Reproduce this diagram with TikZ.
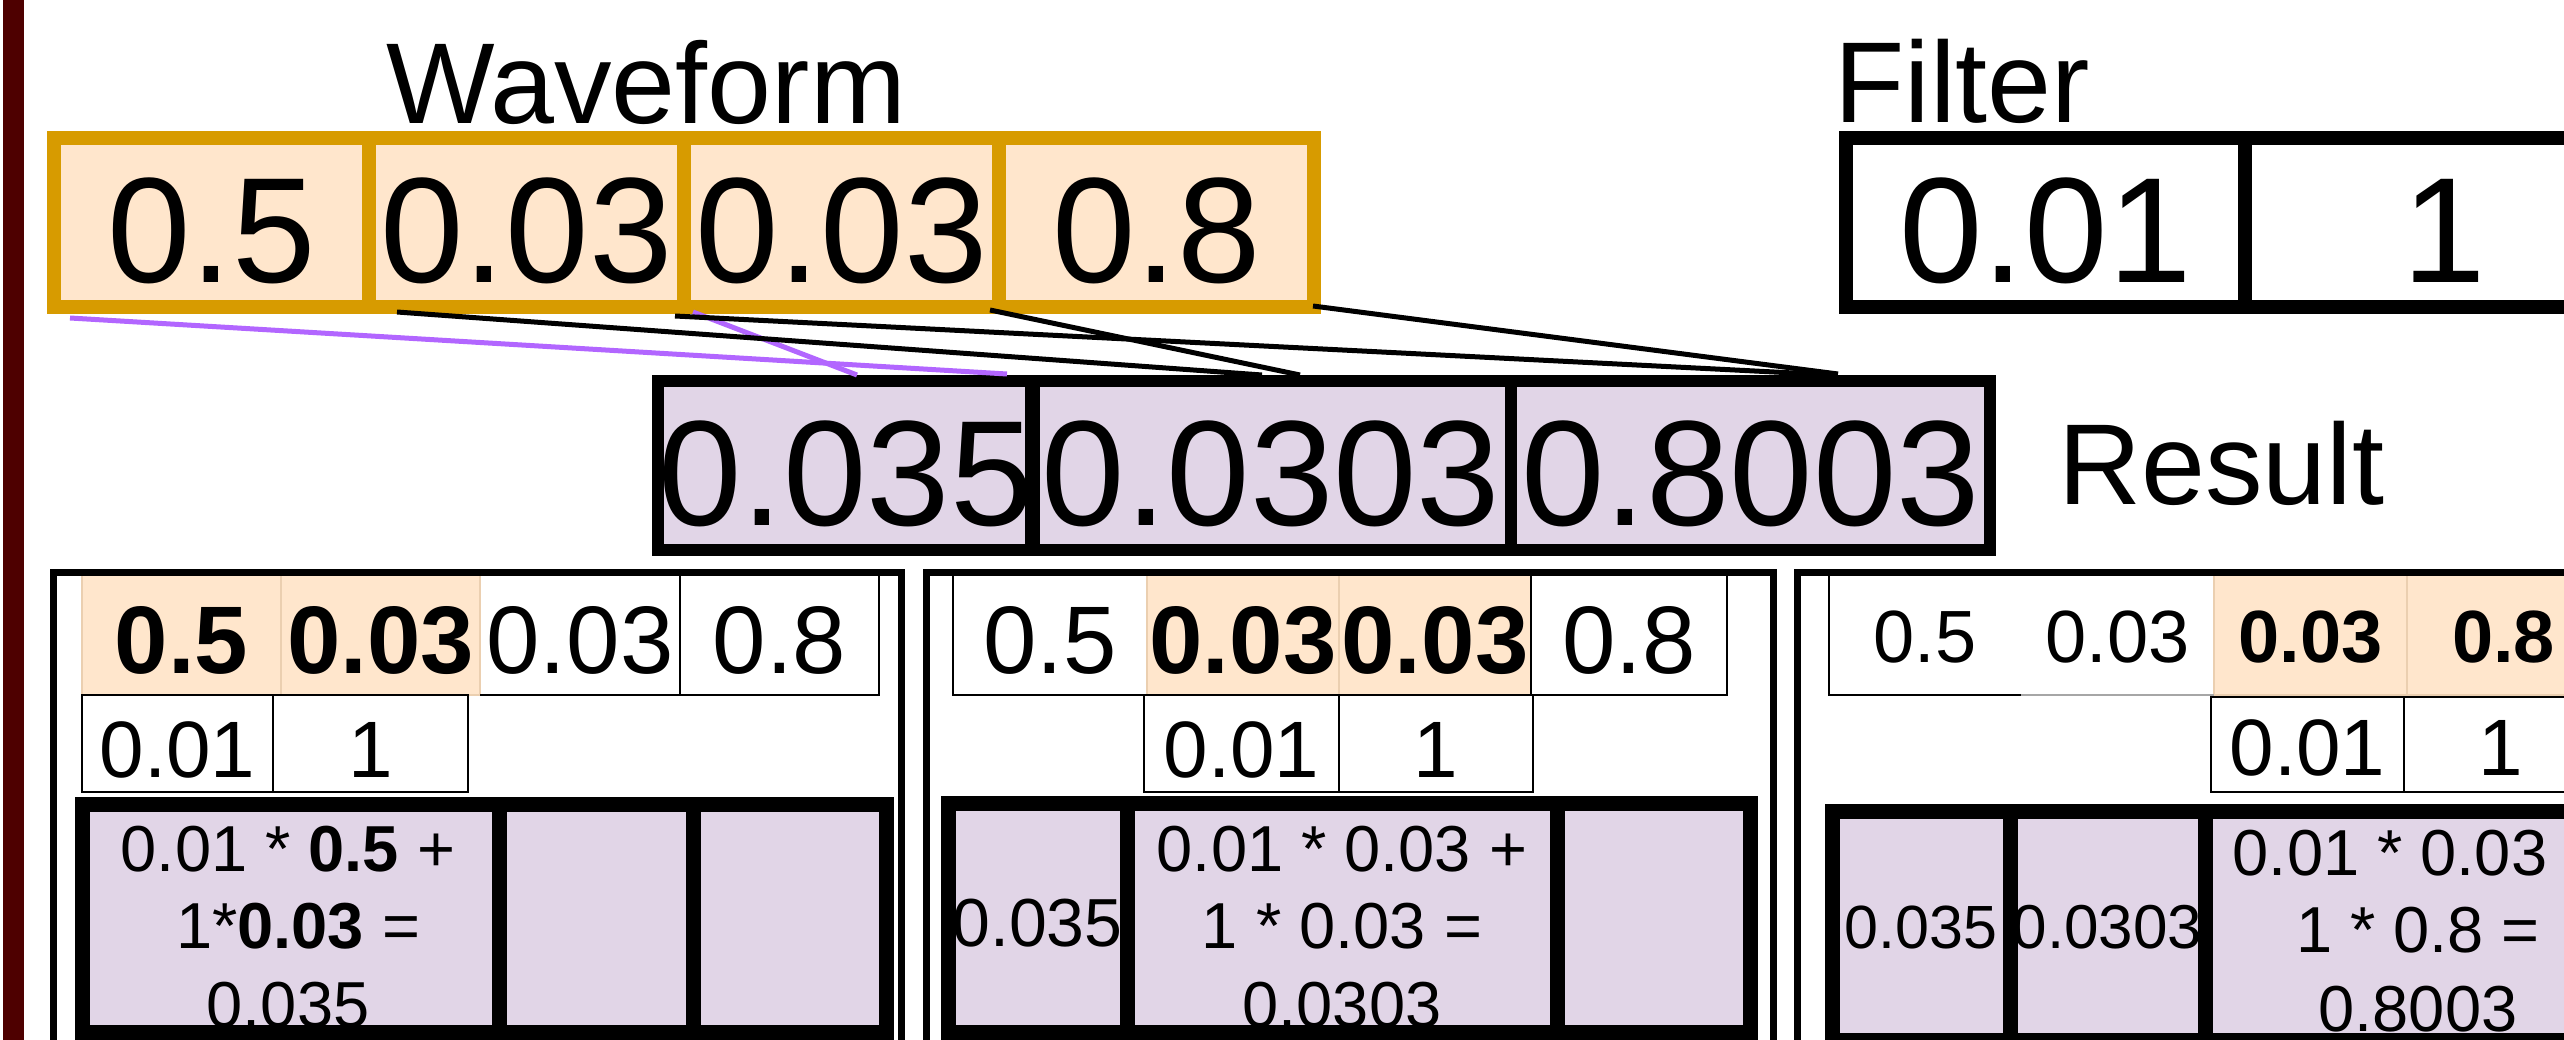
\documentclass[tikz,border=0pt]{standalone}
\usepackage{fontspec}
\setmainfont{Liberation Sans}
\usetikzlibrary{calc}

\definecolor{gold}{HTML}{D79B00}
\definecolor{peach}{HTML}{FFE6CC}
\definecolor{peachedge}{HTML}{EBCFB0}
\definecolor{lilac}{HTML}{E1D5E7}
\definecolor{violetwire}{HTML}{B266FF}
\definecolor{sidebar}{HTML}{4E0000}

% \mkcell{name}{x1}{y1}{x2}{y2}{style}{text}: a cell node spanning the given box
\newcommand{\mkcell}[7]{%
  \pgfmathsetmacro{\mkcx}{(#2+#4)/2}%
  \pgfmathsetmacro{\mkcy}{(#3+#5)/2}%
  \pgfmathsetmacro{\mkcw}{#4-#2}%
  \pgfmathsetmacro{\mkch}{#5-#3}%
  \node[cell, #6, minimum width=\mkcw pt, minimum height=\mkch pt] (#1) at (\mkcx,\mkcy) {#7};%
}

\begin{document}
\begin{tikzpicture}[x=1pt, y=-1pt,
  cell/.style={rectangle, inner sep=0pt, outer sep=0pt, text depth=0pt},
  label/.style={inner sep=0pt, anchor=base west, font=\fontsize{115}{138}\selectfont},
  wavecell/.style={fill=peach, font=\fontsize{150}{180}\selectfont, text height=121pt},
  filtcell/.style={fill=white, font=\fontsize{150}{180}\selectfont, text height=121pt},
  rescell/.style={fill=lilac, font=\fontsize{150}{180}\selectfont, text height=119pt},
  hot/.style={fill=peach},
  cold/.style={fill=white},
  toprow/.style={font=\fontsize{96}{115}\selectfont, text height=76pt},
  toprowsmall/.style={font=\fontsize{74}{89}\selectfont, text height=54pt},
  filtrow/.style={fill=white, font=\fontsize{80}{96}\selectfont, text height=67pt},
  sumcell/.style={fill=lilac},
  sumtext/.style={inner sep=0pt, anchor=base, font=\fontsize{65}{78}\selectfont},
  goldrule/.style={draw=gold, line width=14pt},
  blackrule/.style={draw=black, line width=14pt},
  resrule/.style={draw=black, line width=12pt},
  sumrule/.style={draw=black, line width=15pt},
  thinrule/.style={draw=black, line width=2pt},
  peachrule/.style={draw=peachedge, line width=1.5pt},
  panelrule/.style={draw=black, line width=7pt},
  wire/.style={draw=black, line width=5pt},
  violet/.style={draw=violetwire, line width=5pt}
]
\useasboundingbox (0,0) rectangle (2564,1040);
\clip (0,0) rectangle (2564,1040);
\fill[white] (0,0) rectangle (2564,1040);

% side bar
\fill[sidebar] (3,0) rectangle (24,1040);

% titles
\node[label] (wavelabel) at (386,124) {Waveform};
\node[label] (filtlabel) at (1834,123) {Filter};
\node[label] (reslabel) at (2058,504) {Result};

% waveform array
\mkcell{w1}{54}{138}{369}{307}{wavecell}{0.5}
\mkcell{w2}{369}{138}{684}{307}{wavecell}{0.03}
\mkcell{w3}{684}{138}{999}{307}{wavecell}{0.03}
\mkcell{w4}{999}{138}{1314}{307}{wavecell}{0.8}

% filter array
\mkcell{f1}{1846}{138}{2245}{307}{filtcell}{0.01}
\mkcell{f2}{2245}{138}{2644}{307}{filtcell}{1}

% result array
\mkcell{r1}{661}{381}{1031}{550}{rescell}{0.035}
\mkcell{r2}{1031}{381}{1511}{550}{rescell}{0.0303}
\mkcell{r3}{1511}{381}{1990}{550}{rescell}{0.8003}

\foreach \n in {w1,w2,w3,w4} \draw[goldrule] (\n.north west) rectangle (\n.south east);
\foreach \n in {f1,f2} \draw[blackrule] (\n.north west) rectangle (\n.south east);
\foreach \n in {r1,r2,r3} \draw[resrule] (\n.north west) rectangle (\n.south east);

% ---------- step 1 ----------
\mkcell{a1}{82}{575}{281}{695}{hot, toprow}{\textbf{0.5}}
\mkcell{a2}{281}{575}{480}{695}{hot, toprow}{\textbf{0.03}}
\mkcell{a3}{480}{575}{680}{695}{cold, toprow}{0.03}
\mkcell{a4}{680}{575}{879}{695}{cold, toprow}{0.8}
\mkcell{b1}{82}{695}{273}{792}{filtrow}{0.01}
\mkcell{b2}{273}{695}{468}{792}{filtrow}{1}
\mkcell{c1}{82.5}{804.5}{499}{1032.5}{sumcell}{}
\mkcell{c2}{499}{804.5}{693}{1032.5}{sumcell}{}
\mkcell{c3}{693}{804.5}{886}{1032.5}{sumcell}{}
\node[sumtext] (c1l1) at (288,871) {0.01 * \textbf{0.5} +};
\node[sumtext] (c1l2) at (298,948) {1*\textbf{0.03} =};
\node[sumtext] (c1l3) at (288,1027) {0.035};

% ---------- step 2 ----------
\mkcell{d1}{953}{575}{1147}{695}{cold, toprow}{0.5}
\mkcell{d2}{1147}{575}{1339}{695}{hot, toprow}{\textbf{0.03}}
\mkcell{d3}{1339}{575}{1531}{695}{hot, toprow}{\textbf{0.03}}
\mkcell{d4}{1531}{575}{1727}{695}{cold, toprow}{0.8}
\mkcell{e1}{1144}{695}{1339}{792}{filtrow}{0.01}
\mkcell{e2}{1339}{695}{1533}{792}{filtrow}{1}
\mkcell{g1}{948}{803.5}{1127}{1032.5}{sumcell, font=\fontsize{68}{82}\selectfont, text height=56pt}{0.035}
\mkcell{g2}{1127}{803.5}{1557}{1032.5}{sumcell}{}
\mkcell{g3}{1557}{803.5}{1750}{1032.5}{sumcell}{}
\node[sumtext] (g2l1) at (1342,871) {0.01 * 0.03 +};
\node[sumtext] (g2l2) at (1342,948) {1 * 0.03 =};
\node[sumtext] (g2l3) at (1342,1027) {0.0303};

% ---------- step 3 ----------
\mkcell{h1}{1829}{575}{2021}{695}{cold, toprowsmall}{0.5}
\mkcell{h2}{2021}{575}{2214}{695}{cold, toprowsmall}{0.03}
\mkcell{h3}{2214}{575}{2407}{695}{hot, toprowsmall}{\textbf{0.03}}
\mkcell{h4}{2407}{575}{2600}{695}{hot, toprowsmall}{\textbf{0.8}}
\mkcell{i1}{2211}{697}{2404}{792}{filtrow, text height=61pt}{0.01}
\mkcell{i2}{2404}{697}{2597}{792}{filtrow, text height=61pt}{1}
\mkcell{j1}{1832}{811}{2010}{1040}{sumcell, font=\fontsize{61}{73}\selectfont, text height=45pt}{0.035}
\mkcell{j2}{2010}{811}{2205}{1040}{sumcell, font=\fontsize{62}{74}\selectfont, text height=45pt}{0.0303}
\mkcell{j3}{2205}{811}{2631}{1040}{sumcell}{}
\node[sumtext] (j3l1) at (2418,875) {0.01 * 0.03 +};
\node[sumtext] (j3l2) at (2418,952) {1 * 0.8 =};
\node[sumtext] (j3l3) at (2418,1031) {0.8003};

% cell outlines of the three steps
\foreach \n in {a1,a2,d2,d3,h3,h4} \draw[peachrule] (\n.north west) rectangle (\n.south east);
\draw[thinrule] (a3.north west) -- (a3.north east) -- (a3.south east) -- (a3.south west);
\draw[thinrule] (a4.north west) rectangle (a4.south east);
\draw[thinrule] (d1.north east) -- (d1.north west) -- (d1.south west) -- (d1.south east);
\draw[thinrule] (d4.north west) rectangle (d4.south east);
\draw[thinrule] (h1.north east) -- (h1.north west) -- (h1.south west) -- (h1.south east);
\draw[draw=black!35, line width=1.5pt] (h2.south west) -- (h2.south east);
\foreach \n in {b1,b2,e1,e2,i1,i2} \draw[thinrule] (\n.north west) rectangle (\n.south east);
\foreach \n in {c1,c2,c3,g1,g2,g3,j1,j2,j3} \draw[sumrule] (\n.north west) rectangle (\n.south east);

% step frames
\draw[panelrule] (53.5,1100) -- (53.5,572) -- (901.5,572) -- (901.5,1100);
\draw[panelrule] (926.5,1100) -- (926.5,572) -- (1773.5,572) -- (1773.5,1100);
\draw[panelrule] (1797,1100) -- (1797,572) -- (2700,572);

% connectors from waveform to result
\coordinate (pa0) at (70,318);   \coordinate (pa1) at (1007,374);
\coordinate (pb0) at (693,312);  \coordinate (pb1) at (857,375);
\coordinate (k10) at (397,312);  \coordinate (k11) at (1262,375);
\coordinate (k20) at (675,316);  \coordinate (k21) at (1833,375);
\coordinate (k30) at (990,310);  \coordinate (k31) at (1300,375);
\coordinate (k40) at (1313,306); \coordinate (k41) at (1838,374);
\draw[violet] (pa0) -- (pa1);
\draw[violet] (pb0) -- (pb1);
\draw[wire] (k10) -- (k11);
\draw[wire] (k20) -- (k21);
\draw[wire] (k30) -- (k31);
\draw[wire] (k40) -- (k41);
\end{tikzpicture}
\end{document}
